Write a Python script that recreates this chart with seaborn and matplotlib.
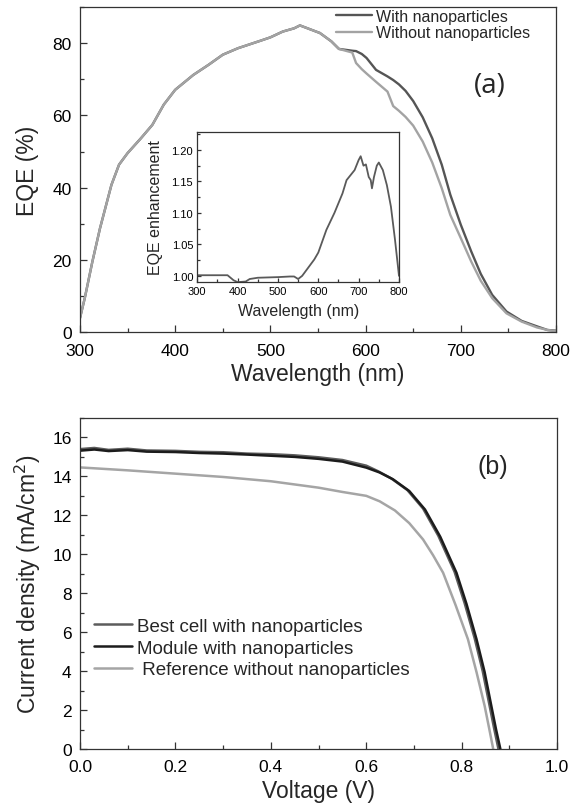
import numpy as np
import pandas as pd
import matplotlib
matplotlib.use("Agg")
import matplotlib.pyplot as plt
from matplotlib.ticker import MultipleLocator, FormatStrFormatter
import seaborn as sns

# EQE spectra (panel a)
wavelength = [300, 305, 313, 321, 333, 341, 350, 364, 376, 388, 400, 419, 435, 450,
              466, 490, 500, 513, 525, 531, 540, 552, 564, 572, 586, 590, 596, 601,
              611, 623, 629, 635, 642, 650, 660, 670, 680, 689, 700, 711, 721, 733,
              748, 764, 780, 791, 800]
eqe_with = [4.0, 9.5, 19.6, 28.8, 40.8, 46.4, 49.6, 53.7, 57.4, 63.0, 67.1, 71.2, 74.0, 76.8,
            78.6, 80.7, 81.6, 83.2, 84.1, 84.9, 84.0, 82.8, 80.5, 78.4, 77.9, 77.8, 77.0, 75.9,
            72.6, 70.8, 69.8, 68.6, 66.8, 64.0, 59.5, 53.7, 46.4, 38.1, 29.8, 22.4, 16.2, 10.4,
            5.8, 3.2, 1.7, 0.7, 0.5]
eqe_without = [4.0, 9.5, 19.6, 28.8, 40.8, 46.4, 49.6, 53.7, 57.4, 63.0, 67.1, 71.2, 74.0, 76.8,
               78.6, 80.7, 81.6, 83.2, 84.1, 84.9, 84.0, 82.8, 80.5, 78.4, 77.4, 74.5, 72.8, 71.6,
               69.3, 66.6, 62.6, 61.3, 59.6, 57.2, 52.8, 47.0, 39.9, 32.5, 26.1, 19.6, 14.3, 9.5,
               5.3, 3.0, 1.4, 0.7, 0.4]

# EQE enhancement (inset)
inset_wl = [300, 375, 390, 400, 420, 430, 450, 500, 530, 540, 550, 560, 575, 590, 600,
            620, 640, 660, 670, 680, 690, 700, 705, 712, 718, 725, 730, 733, 738, 745,
            750, 760, 770, 780, 790, 800]
enhancement = [1.001, 1.001, 0.993, 0.990, 0.991, 0.995, 0.997, 0.998, 0.999, 0.999, 0.995,
               1.000, 1.013, 1.026, 1.037, 1.073, 1.100, 1.131, 1.152, 1.160, 1.168, 1.184,
               1.190, 1.175, 1.177, 1.157, 1.152, 1.139, 1.157, 1.175, 1.180, 1.168, 1.144,
               1.110, 1.058, 1.000]

# J-V curves (panel b)
v_best = [0.0, 0.03, 0.06, 0.1, 0.14, 0.2, 0.25, 0.3, 0.35, 0.4, 0.45, 0.5, 0.55, 0.6,
          0.625, 0.652, 0.686, 0.719, 0.751, 0.785, 0.806, 0.827, 0.844, 0.858, 0.868, 0.877]
j_best = [15.40, 15.46, 15.36, 15.42, 15.33, 15.31, 15.26, 15.24, 15.17, 15.14, 15.08,
          14.98, 14.84, 14.55, 14.26, 13.90, 13.30, 12.35, 10.95, 9.10, 7.50, 5.70, 4.00,
          2.28, 1.05, 0.0]
v_module = [0.0, 0.03, 0.06, 0.1, 0.14, 0.2, 0.25, 0.3, 0.35, 0.4, 0.45, 0.5, 0.55, 0.6,
            0.628, 0.656, 0.69, 0.723, 0.755, 0.789, 0.81, 0.831, 0.848, 0.862, 0.872, 0.881]
j_module = [15.32, 15.38, 15.30, 15.35, 15.27, 15.25, 15.20, 15.17, 15.12, 15.06, 15.00,
            14.90, 14.76, 14.45, 14.20, 13.85, 13.25, 12.30, 10.90, 9.05, 7.45, 5.64, 3.95,
            2.22, 1.00, 0.0]
v_ref = [0.0, 0.1, 0.2, 0.3, 0.4, 0.5, 0.55, 0.6, 0.628, 0.66, 0.69, 0.719, 0.74, 0.761,
         0.787, 0.813, 0.831, 0.848, 0.858, 0.866]
j_ref = [14.46, 14.31, 14.14, 13.97, 13.75, 13.42, 13.20, 13.00, 12.72, 12.25, 11.60, 10.76,
         9.95, 9.05, 7.40, 5.64, 3.95, 2.22, 1.00, 0.0]

sns.set_theme(style="ticks")
plt.rcParams["font.family"] = ["Liberation Sans", "DejaVu Sans"]
plt.rcParams["axes.edgecolor"] = "#333333"
plt.rcParams["axes.linewidth"] = 0.9

fig = plt.figure(figsize=(5.84, 8.04), dpi=100)


def style_axes(ax, size, major, minor, xpad, ypad):
    ax.tick_params(which="both", direction="in", top=False, right=False,
                   colors="#333333", labelcolor="black", labelsize=size, width=0.9)
    ax.tick_params(which="major", length=major)
    ax.tick_params(which="minor", length=minor)
    ax.tick_params(axis="x", which="both", pad=xpad)
    ax.tick_params(axis="y", which="both", pad=ypad)


# Panel (a)
ax1 = fig.add_axes([0.137, 0.5852, 0.815, 0.4049])
eqe = pd.DataFrame({"wl": wavelength, "With nanoparticles": eqe_with,
                    "Without nanoparticles": eqe_without})
sns.lineplot(data=eqe, x="wl", y="With nanoparticles", color="#555555", lw=1.7,
             ax=ax1, label="With nanoparticles")
sns.lineplot(data=eqe, x="wl", y="Without nanoparticles", color="#a3a3a3", lw=1.7,
             ax=ax1, label="Without nanoparticles")
ax1.set_xlim(300, 800)
ax1.set_ylim(0, 90)
ax1.xaxis.set_major_locator(MultipleLocator(100))
ax1.xaxis.set_minor_locator(MultipleLocator(50))
ax1.yaxis.set_major_locator(MultipleLocator(20))
ax1.yaxis.set_minor_locator(MultipleLocator(10))
style_axes(ax1, 12.5, 5, 3, 7.5, 6)
ax1.set_xlabel("Wavelength (nm)", fontsize=16.5, labelpad=3)
ax1.set_ylabel("EQE (%)", fontsize=16.5, labelpad=10)
ax1.legend(loc="upper right", bbox_to_anchor=(0.95, 1.0), frameon=False,
           fontsize=11.5, handlelength=2.3, handletextpad=0.25, borderpad=0.1,
           borderaxespad=0, labelspacing=0.1)
ax1.text(0.86, 0.76, "(a)", transform=ax1.transAxes, fontsize=20,
         family=["Open Sans", "DejaVu Sans"], ha="center", va="center")

# Inset
axin = fig.add_axes([0.3378, 0.6486, 0.3454, 0.1856])
ins = pd.DataFrame({"wl": inset_wl, "enh": enhancement})
sns.lineplot(data=ins, x="wl", y="enh", color="#5a5a5a", lw=1.3, ax=axin)
axin.set_xlim(300, 800)
axin.set_ylim(0.991, 1.228)
axin.xaxis.set_major_locator(MultipleLocator(100))
axin.xaxis.set_minor_locator(MultipleLocator(50))
axin.yaxis.set_major_locator(MultipleLocator(0.05))
axin.yaxis.set_minor_locator(MultipleLocator(0.025))
axin.yaxis.set_major_formatter(FormatStrFormatter("%.2f"))
style_axes(axin, 8, 3, 2, 3, 3)
axin.set_xlabel("Wavelength (nm)", fontsize=11.5, labelpad=5)
axin.set_ylabel("EQE enhancement", fontsize=11.5, labelpad=6)

# Panel (b)
ax2 = fig.add_axes([0.137, 0.0672, 0.817, 0.4117])
sns.lineplot(x=v_best, y=j_best, color="#5c5c5c", lw=1.8, ax=ax2,
             label="Best cell with nanoparticles", sort=False)
sns.lineplot(x=v_module, y=j_module, color="#1c1c1c", lw=1.8, ax=ax2,
             label="Module with nanoparticles", sort=False)
sns.lineplot(x=v_ref, y=j_ref, color="#a5a5a5", lw=1.8, ax=ax2,
             label=" Reference without nanoparticles", sort=False)
ax2.set_xlim(0, 1.0)
ax2.set_ylim(0, 17)
ax2.xaxis.set_major_locator(MultipleLocator(0.2))
ax2.xaxis.set_minor_locator(MultipleLocator(0.1))
ax2.yaxis.set_major_locator(MultipleLocator(2))
ax2.yaxis.set_minor_locator(MultipleLocator(1))
ax2.xaxis.set_major_formatter(FormatStrFormatter("%.1f"))
style_axes(ax2, 12.5, 5, 3, 7.5, 6)
ax2.set_xlabel("Voltage (V)", fontsize=16.5, labelpad=3)
ax2.set_ylabel("Current density (mA/cm$^2$)", fontsize=16.5, labelpad=7)
ax2.legend(loc="center left", bbox_to_anchor=(0.03, 0.305), frameon=False,
           fontsize=13.5, handlelength=2.0, handletextpad=0.3, borderpad=0,
           borderaxespad=0, labelspacing=0.25)
ax2.text(0.865, 0.855, "(b)", transform=ax2.transAxes, fontsize=18,
         ha="center", va="center")

fig.savefig("out.png", dpi=100)
